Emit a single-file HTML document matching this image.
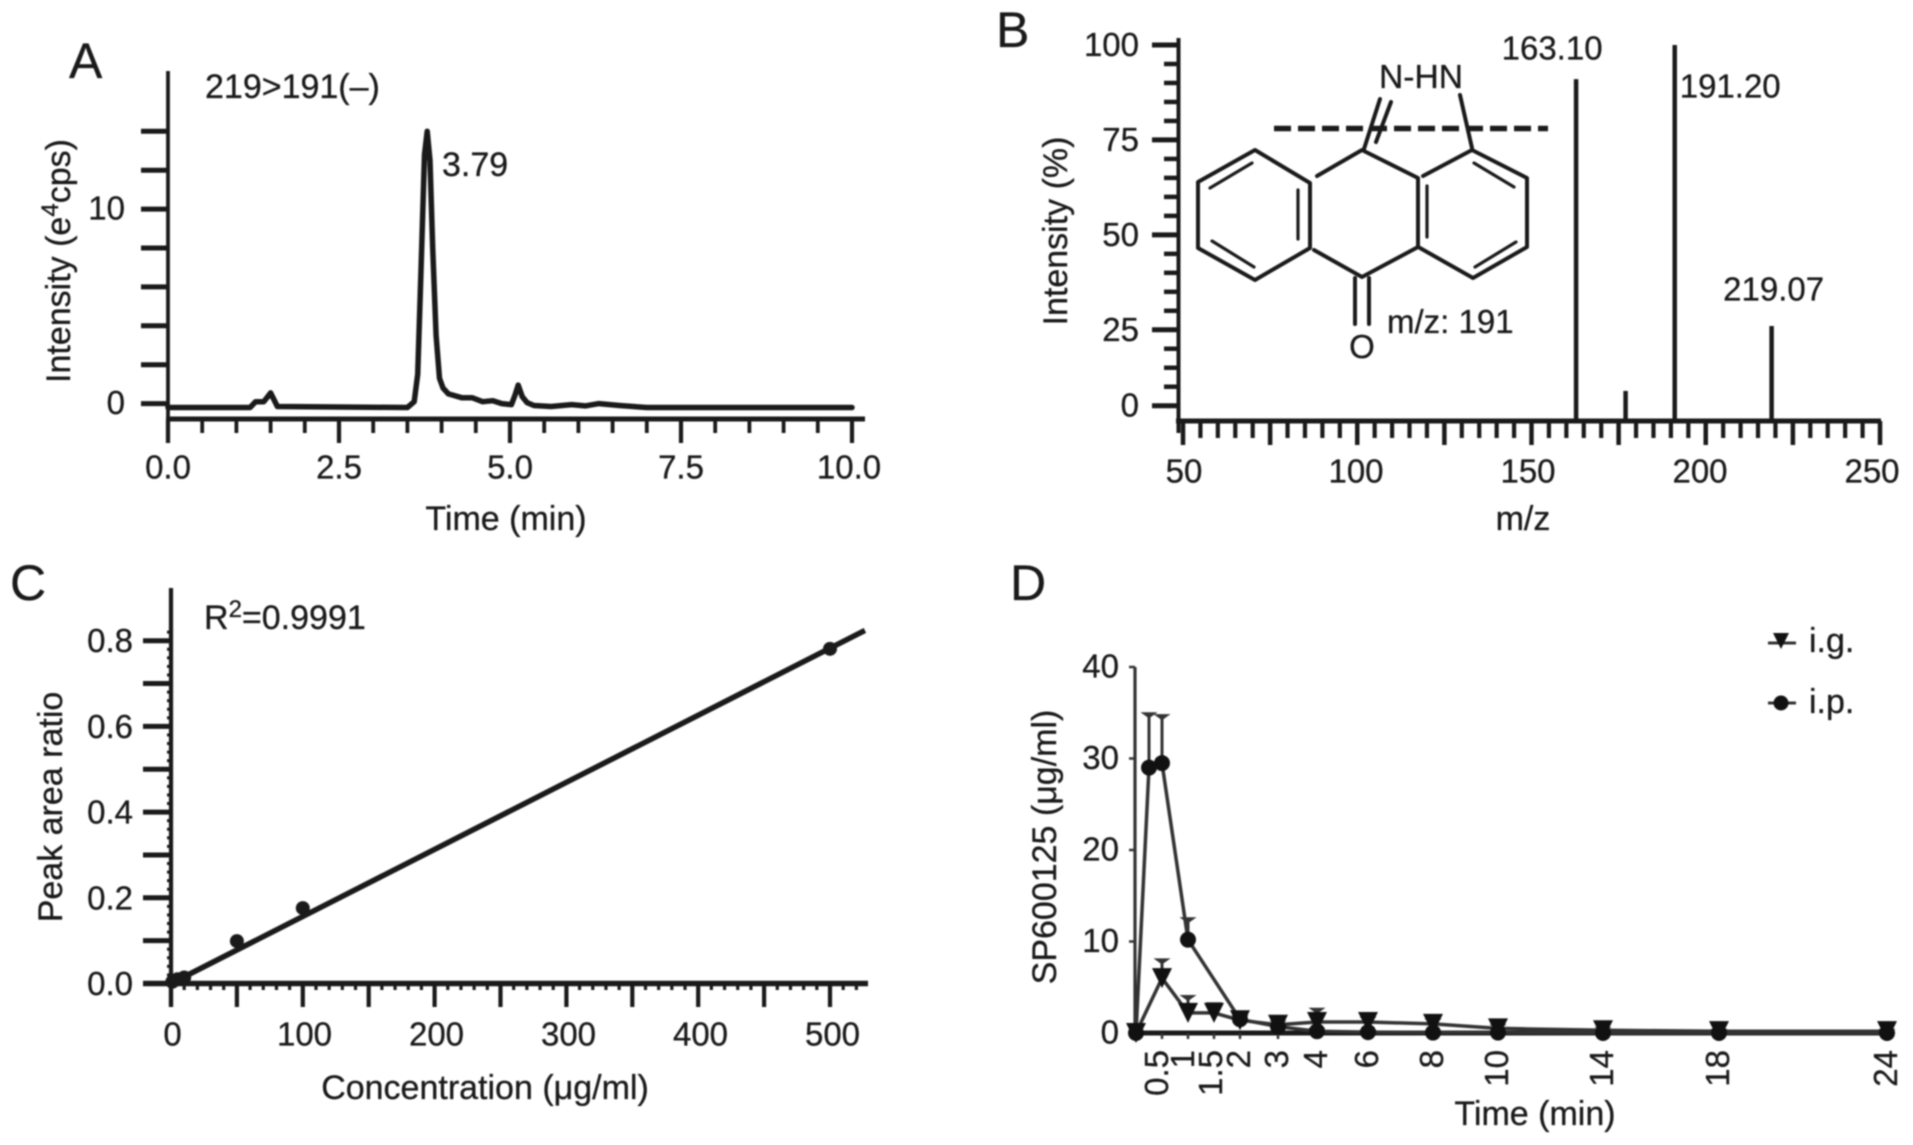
<!DOCTYPE html>
<html lang="en">
<head>
<meta charset="utf-8">
<title>SP600125 LC-MS/MS figure</title>
<style>
html,body{margin:0;padding:0;background:#fff;width:1913px;height:1145px;overflow:hidden}
svg{display:block;filter:blur(.8px)}
text{font-family:"Liberation Sans",sans-serif;fill:#1a1a1a;stroke:#1a1a1a;stroke-width:.3px;font-size:33px}
.title{font-size:34px}
.panel{font-size:50px}
</style>
</head>
<body>
<svg id="figure" xmlns="http://www.w3.org/2000/svg" width="1913" height="1145" viewBox="0 0 1913 1145">
  <rect width="1913" height="1145" fill="#fff"/>

  <g id="panel-a">
    <text class="panel" x="69" y="78">A</text>
    <text class="title" x="205" y="98">219&gt;191(–)</text>
    <text class="title" x="442" y="176">3.79</text>
    <text class="title" transform="translate(70,261) rotate(-90)" text-anchor="middle">Intensity (e<tspan dy="-12" style="font-size:24px">4</tspan><tspan dy="12">cps)</tspan></text>
    <text class="title" x="506" y="530" text-anchor="middle">Time (min)</text>
  </g>

  <g id="panel-b">
    <text class="panel" x="996" y="47">B</text>
    <text class="title" transform="translate(1067,231) rotate(-90)" text-anchor="middle">Intensity (%)</text>
    <text class="title" x="1527" y="530" text-anchor="middle" dx="-4">m/z</text>
    <g fill="none" stroke="#1a1a1a" stroke-width="4" stroke-linecap="round" stroke-linejoin="round">
      <path d="M1255 150L1310 183V248L1255 280L1198 248V182Z"/>
      <path stroke-width="3.2" d="M1252 163L1210 188M1298 190V239M1212 241L1254 267"/>
      <path d="M1317 176L1362 150L1418 178V247L1362 277L1314 250"/>
      <path stroke-width="3.2" d="M1427 186V237"/>
      <path d="M1423 176L1472 150L1527 178V247L1473 278L1420 248"/>
      <path stroke-width="3.2" d="M1474 163L1514 187M1475 267L1516 242"/>
      <path d="M1355 278V324M1369 278V324"/>
      <path d="M1364 149L1380 99M1376 142L1391 102"/>
      <path d="M1460 95L1472 148"/>
      <path stroke-width="5.5" stroke-dasharray="17 7" stroke-linecap="butt" d="M1274 128.500H1548"/>
    </g>
    <text x="1421" y="88" text-anchor="middle" textLength="84" lengthAdjust="spacingAndGlyphs">N-HN</text>
    <text x="1362" y="358" text-anchor="middle">O</text>
    <text x="1387" y="333">m/z: 191</text>
  </g>

  <g id="panel-c">
    <text class="panel" x="10" y="600">C</text>
    <text class="title" x="204" y="629">R<tspan dy="-12" style="font-size:24px">2</tspan><tspan dy="12">=0.9991</tspan></text>
    <text class="title" transform="translate(62,807) rotate(-90)" text-anchor="middle">Peak area ratio</text>
    <text class="title" x="485" y="1099" text-anchor="middle">Concentration (μg/ml)</text>
  </g>

  <g id="panel-d">
    <text class="panel" x="1010" y="600">D</text>
    <text class="title" transform="translate(1056,847) rotate(-90)" text-anchor="middle">SP600125 (μg/ml)</text>
    <text class="title" x="1535" y="1125" text-anchor="middle">Time (min)</text>
    <g>
      <text class="title" x="1809" y="652">i.g.</text>
      <text class="title" x="1809" y="713">i.p.</text>
    </g>
  </g>
</svg>
<script>
// ---------- Panel A: chromatogram ----------
const aTimes = [0, 0.6, 1.2, 1.28, 1.4, 1.5, 1.6, 3.5, 3.6, 3.65, 3.7, 3.75, 3.79, 3.83, 3.87, 3.92, 3.97, 4.02, 4.1, 4.3, 4.45, 4.6, 4.75, 4.88, 5.02, 5.07, 5.12, 5.18, 5.25, 5.35, 5.6, 5.9, 6.1, 6.3, 6.6, 7, 10];
const aIntensity = [-0.2, -0.2, -0.2, 0.1, 0.1, 0.55, -0.15, -0.2, 0.1, 1.5, 7, 12.8, 14, 12.5, 8, 3.5, 1.3, 0.8, 0.5, 0.3, 0.3, 0.1, 0.15, 0, -0.05, 0.4, 0.95, 0.35, 0.05, -0.1, -0.15, -0.05, -0.12, 0, -0.1, -0.2, -0.2];
const aYTicks = [0, 2, 4, 6, 8, 10, 12, 14];
const aYLabels = ["0", "10"];
const aXMajor = [0, 2.5, 5, 7.5, 10];
const aXMajorLabels = ["0.0", "2.5", "5.0", "7.5", "10.0"];
const aXMinor = [0.5, 1, 1.5, 2, 3, 3.5, 4, 4.5, 5.5, 6, 6.5, 7, 8, 8.5, 9, 9.5];

// ---------- Panel B: mass spectrum ----------
const bMz = [162.8, 177, 191.1, 218.9];
const bRelIntensity = [91, 8.9, 100, 26];
const bPeakLabels = ["163.10", "191.20", "219.07"];
const bYMajor = [5, 25, 50, 75, 100];
const bYMajorLabels = ["0", "25", "50", "75", "100"];
const bYMinor = [10, 15, 20, 30, 35, 40, 45, 55, 60, 65, 70, 80, 85, 90, 95];
const bXMajor = [50, 75, 100, 125, 150, 175, 200, 225, 250];
const bXLabels = [50, 100, 150, 200, 250];

// ---------- Panel C: calibration ----------
const cConc = [1, 5, 10, 50, 100, 500];
const cRatio = [0.004, 0.01, 0.014, 0.099, 0.176, 0.781];
const cFitSlope = [0.001565];
const cFitIntercept = [0];
const cYMajor = [0, 0.1, 0.2, 0.3, 0.4, 0.5, 0.6, 0.7, 0.8];
const cYLabels = [0, 0.2, 0.4, 0.6, 0.8];
const cXMajor = [0, 50, 100, 150, 200, 250, 300, 350, 400, 450, 500];
const cXLabels = [0, 100, 200, 300, 400, 500];

// ---------- Panel D: pharmacokinetics ----------
const dTickTimes = [0.5, 1, 1.5, 2, 3, 4, 6, 8, 10, 14, 18, 24];
const dTickLabels = ["0.5", "1", "1.5", "2", "3", "4", "6", "8", "10", "14", "18", "24"];
const dYTicks = [0, 10, 20, 30, 40];
const igTimes = [0, 0.5, 1, 1.5, 2, 3, 4, 6, 8, 10, 14, 18, 24];
const igValues = [0, 6, 2.2, 2.2, 1.4, 0.9, 1.2, 1.2, 1, 0.5, 0.3, 0.2, 0.2];
const igUpper = [0, 8.1, 4.1, 3.3, 1.9, 1.3, 2.7, 1.7, 1.5, 0.9, 0.6, 0.4, 0.4];
const ipTimes = [0, 0.25, 0.5, 1, 2, 3, 4, 6, 8, 10, 14, 18, 24];
const ipValues = [0, 29, 29.5, 10.2, 1.5, 0.7, 0.2, 0.1, 0.05, 0.05, 0, 0, 0];
const ipUpper = [0, 35, 34.8, 12.6, 1.9, 0.9, 0.5, 0.3, 0.2, 0.1, 0.05, 0.05, 0.05];

const SVG_NS = "http://www.w3.org/2000/svg";
const INK = "#1a1a1a";
function el(tag, attrs, parent) {
  const node = document.createElementNS(SVG_NS, tag);
  for (const key in attrs) node.setAttribute(key, attrs[key]);
  parent.appendChild(node);
  return node;
}
function line(parent, x1, y1, x2, y2, width, color) {
  return el("line", {x1: x1, y1: y1, x2: x2, y2: y2, stroke: color || INK, "stroke-width": width}, parent);
}
function label(parent, str, x, y, anchor) {
  const t = el("text", {x: x, y: y + 11.5, "text-anchor": anchor || "middle"}, parent);
  t.textContent = str;
  return t;
}
function pathFrom(xs, ys, fx, fy) {
  return xs.map(function (v, i) { return (i ? "L" : "M") + fx(v).toFixed(1) + " " + fy(ys[i]).toFixed(1); }).join("");
}

// ===== Panel A =====
(function () {
  const g = document.getElementById("panel-a");
  const x = function (t) { return 168 + 68.4 * t; };
  const y = function (v) { return 403.6 - 19.45 * v; };
  const yAxis = line(g, 168, 71, 168, 443, 3.8);
  
  
  const xAxis = line(g, 166, 419, 865, 419, 5);
  
  
  aYTicks.forEach(function (v) {
    const tick = line(g, 141, y(v), 168, y(v), 5);
    
    
  });
  aYLabels.forEach(function (s) {
    const t = label(g, s, 125, y(Number(s)) - 1, "end");
    
    
  });
  aXMajor.forEach(function (v, i) {
    const tick = line(g, x(v), 419, x(v), 443, 4.2);
    
    
    const t = label(g, aXMajorLabels[i], x(v) - (i === 4 ? 3 : 0), 467);
    
    
  });
  aXMinor.forEach(function (v) {
    const tick = line(g, x(v), 419, x(v), 433, 3.8);
    
    
  });
  const trace = el("path", {d: pathFrom(aTimes, aIntensity, x, y), fill: "none", stroke: INK, "stroke-width": 5.5, "stroke-linejoin": "round", "stroke-linecap": "round"}, g);
  
  
})();

// ===== Panel B =====
(function () {
  const g = document.getElementById("panel-b");
  const x = function (m) { return 1183 + 3.485 * (m - 50); };
  const y = function (v) { return 424.7 - 3.797 * v; };
  const labelX = function (m) { return 1185 + 3.44 * (m - 50); };
  const yAxis = line(g, 1178.5, 38, 1178.5, 433, 4);
  
  
  const xAxis = line(g, 1176, 421, 1881, 421, 5);
  
  
  bYMajor.forEach(function (v, i) {
    const tick = line(g, 1152, y(v), 1178, y(v), 5);
    
    
    const t = label(g, bYMajorLabels[i], 1139, y(v) - 0.5, "end");
    
    
  });
  bYMinor.forEach(function (v) {
    const tick = line(g, 1164, y(v), 1178, y(v), 4.5);
    
    
  });
  for (let m = 50; m <= 250; m += 5) {
    if (bXMajor.indexOf(m) >= 0) continue;
    const tick = line(g, x(m), 421, x(m), 438, 4.2);
    
    
  }
  bXMajor.forEach(function (m) {
    const tick = line(g, x(m), 421, x(m), 445, 4.5);
    
    
  });
  bXLabels.forEach(function (m) {
    const t = label(g, String(m), labelX(m) - 1, 471);
    
    
  });
  bMz.forEach(function (m, i) {
    const stick = line(g, x(m), 421, x(m), y(bRelIntensity[i]), 4.5);
    
    
  });
  const peakLabelA = label(g, bPeakLabels[0], x(bMz[0]) - 24, y(bRelIntensity[0]) - 31);
  
  
  const peakLabelB = label(g, bPeakLabels[1], x(bMz[2]) + 5, y(bRelIntensity[2]) + 41, "start");
  
  
  const peakLabelC = label(g, bPeakLabels[2], x(bMz[3]) + 2, y(bRelIntensity[3]) - 37);
  
  
})();

// ===== Panel C =====
(function () {
  const g = document.getElementById("panel-c");
  const x = function (c) { return 171 + 1.318 * c; };
  const y = function (v) { return 983.5 - 428.5 * v; };
  const labelX = function (c) { return 172.5 + 1.32 * c; };
  const yAxis = line(g, 171, 588, 171, 1007, 4.2);
  
  
  const xAxis = line(g, 143, 983.5, 868, 983.5, 5.5);
  
  
  for (let v = 0; v <= 0.83; v += 0.02) {
    const tick = line(g, 167, y(v), 171, y(v), 3);
    
    
  }
  for (let c = 0; c <= 525; c += 10) {
    const tick = line(g, x(c), 983.5, x(c), 990, 3.2);
    
    
  }
  cYMajor.forEach(function (v) {
    const tick = line(g, 143, y(v), 171, y(v), 5);
    
    
  });
  cYLabels.forEach(function (v) {
    const t = label(g, v.toFixed(1), 133, y(v), "end");
    
    
  });
  cXMajor.forEach(function (c) {
    const tick = line(g, x(c), 983.5, x(c), 1007, 4.2);
    
    
  });
  cXLabels.forEach(function (c) {
    const t = label(g, String(c), labelX(c), 1034);
    
    
  });
  const fitEnd = 526.5;
  const fit = line(g, x(0), y(cFitIntercept[0]), x(fitEnd), y(cFitIntercept[0] + cFitSlope[0] * fitEnd), 5.5);
  
  
  cConc.forEach(function (c, i) {
    const dot = el("circle", {cx: x(c), cy: y(cRatio[i]), r: 7, fill: INK}, g);
    
    
  });
})();

// ===== Panel D =====
(function () {
  const g = document.getElementById("panel-d");
  // non-uniform printed time axis: piecewise-linear scale
  const x = function (t) {
    const dom = [0, 2, 3, 4, 6, 8, 10, 14, 18, 24];
    const rng = [1136, 1240, 1278, 1317, 1368, 1433, 1498, 1603, 1719, 1887];
    for (let i = 1; i < dom.length; i++) {
      if (t <= dom[i]) return rng[i - 1] + (t - dom[i - 1]) / (dom[i] - dom[i - 1]) * (rng[i] - rng[i - 1]);
    }
    return rng[rng.length - 1];
  };
  const y = function (v) { return 1033 - 9.15 * v; };
  const yAxis = line(g, 1135, 667, 1135, 1033, 3.2, "#333");
  
  
  const xAxis = line(g, 1135, 1033, 1890, 1033, 5, "#1a1a1a");
  
  
  dYTicks.forEach(function (v) {
    const tick = line(g, 1129, y(v), 1135, y(v), 2.5, "#333");
    
    
    const t = label(g, String(v), 1119, y(v) - 1, "end");
    
    
  });
  dTickTimes.forEach(function (t, i) {
    const tick = line(g, x(t), 1033, x(t), 1039, 2.5, "#333");
    
    
    const nudge = t <= 1 ? 4 : (t === 1.5 ? 2 : 0);
    const tl = el("text", {transform: "translate(" + (x(t) + 10 - nudge) + ",1050) rotate(-90)", "text-anchor": "end"}, g);
    tl.textContent = dTickLabels[i];
    
    
  });

  function drawErrors(times, values, upper, seriesName) {
    times.forEach(function (t, i) {
      if (upper[i] <= values[i]) return;
      const stem = line(g, x(t), y(values[i]), x(t), y(upper[i]), 3, "#333");
      
      
      const cap = el("path", {d: "M" + (x(t) - 7) + " " + y(upper[i]) + "h14l-7 5z", fill: "#333", stroke: "#333", "stroke-width": 1}, g);
      
      
    });
  }
  function triangle(cx, cy, parent, size) {
    const s = size || 10;
    return el("path", {d: "M" + (cx - s) + " " + (cy - s) + "h" + (2 * s) + "l-" + s + " " + (2 * s) + "z", fill: "#111"}, parent);
  }

  drawErrors(igTimes, igValues, igUpper, "ig");
  drawErrors(ipTimes, ipValues, ipUpper, "ip");
  const igLine = el("path", {d: pathFrom(igTimes, igValues, x, y), fill: "none", stroke: "#333", "stroke-width": 3.5, "stroke-linejoin": "round"}, g);
  
  
  const ipLine = el("path", {d: pathFrom(ipTimes, ipValues, x, y), fill: "none", stroke: "#333", "stroke-width": 3.5, "stroke-linejoin": "round"}, g);
  
  
  igTimes.forEach(function (t, i) {
    const m = triangle(x(t), y(igValues[i]), g);
    
    
  });
  ipTimes.forEach(function (t, i) {
    const m = el("circle", {cx: x(t), cy: y(ipValues[i]), r: 8, fill: "#111"}, g);
    
    
  });

  const legendLineIg = line(g, 1768, 643, 1796, 643, 3, "#333");
  
  
  const legendMarkIg = triangle(1781, 641, g, 8);
  
  
  const legendLineIp = line(g, 1768, 703, 1796, 703, 3, "#333");
  
  
  const legendMarkIp = el("circle", {cx: 1781, cy: 703, r: 7.5, fill: "#111"}, g);
  
  
})();
</script>
</body>
</html>
